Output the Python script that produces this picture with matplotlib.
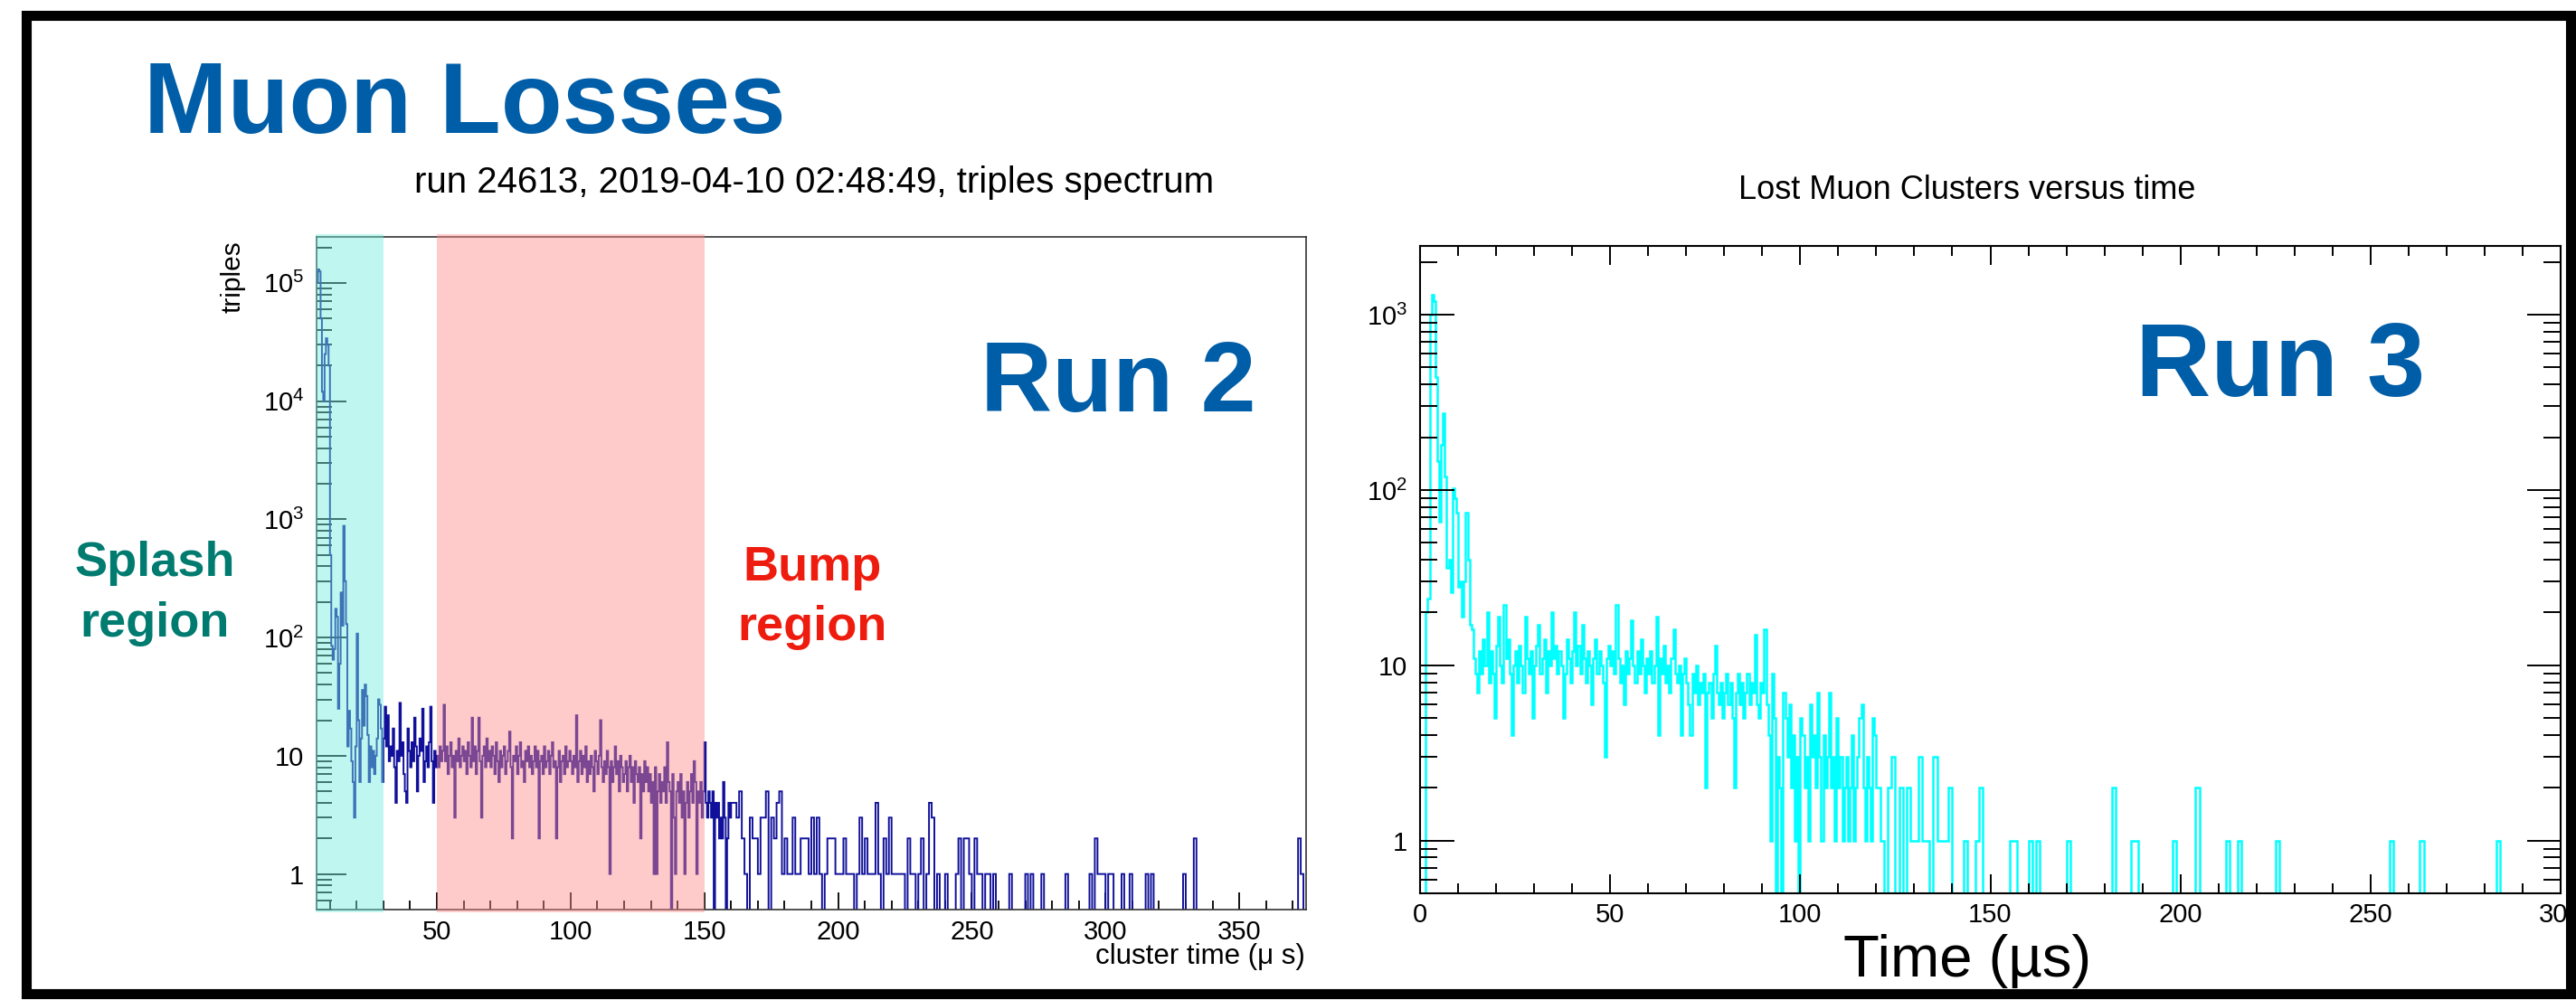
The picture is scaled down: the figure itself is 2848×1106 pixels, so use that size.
import numpy as np
import matplotlib
matplotlib.use("Agg")
import matplotlib.pyplot as plt
import matplotlib.transforms as mtransforms
from matplotlib.patches import Rectangle
from matplotlib.ticker import LogLocator, MultipleLocator, NullFormatter, FuncFormatter

plt.rcParams['font.family'] = ['Liberation Sans', 'DejaVu Sans']
plt.rcParams['mathtext.fontset'] = 'custom'
plt.rcParams['mathtext.rm'] = 'Liberation Sans'
plt.rcParams['mathtext.it'] = 'Liberation Sans:italic'
plt.rcParams['mathtext.bf'] = 'Liberation Sans:bold'

# ---- Run 2 triples spectrum ----
# 0.5 us bins from 5 to 160 us
run2_fine_start = 5
run2_fine_counts = [
    100000, 130000, 125000, 50000, 12000, 10000, 25000, 34000, 30000, 20000,
    500, 85, 65, 80, 175, 150, 25, 60, 240, 126,
    880, 300, 130, 12, 24, 17, 9, 6, 3, 12,
    108, 20, 6, 14, 36, 18, 40, 32, 15, 6,
    12, 8, 11, 7, 10, 14, 30, 27, 17, 6,
    14, 26, 12, 22, 9, 12, 10, 17, 8, 4,
    11, 9, 28, 10, 13, 7, 5, 4, 17, 11,
    8, 13, 9, 21, 12, 5, 10, 14, 11, 25,
    6, 9, 12, 8, 13, 26, 9, 4, 11, 8,
    10, 8, 12, 9, 11, 27, 9, 12, 7, 10,
    13, 8, 10, 3, 11, 9, 14, 8, 10, 12,
    9, 11, 7, 13, 10, 8, 21, 9, 12, 7,
    11, 21, 9, 3, 10, 12, 8, 14, 9, 11,
    8, 12, 10, 7, 13, 9, 6, 11, 8, 10,
    12, 7, 9, 11, 16, 8, 2, 10, 9, 12,
    7, 10, 13, 8, 9, 6, 11, 9, 12, 8,
    10, 7, 9, 12, 8, 11, 2, 9, 10, 7,
    12, 8, 9, 11, 7, 10, 13, 8, 9, 2,
    8, 11, 6, 9, 10, 7, 12, 8, 9, 11,
    9, 7, 10, 8, 22, 6, 9, 11, 7, 10,
    8, 12, 6, 9, 7, 10, 8, 5, 11, 9,
    7, 10, 20, 8, 6, 9, 7, 11, 8, 1,
    9, 6, 8, 12, 7, 9, 5, 10, 8, 6,
    7, 9, 5, 8, 10, 6, 8, 4, 9, 7,
    6, 8, 2, 7, 5, 9, 6, 8, 5, 7,
    4, 6, 1, 8, 1, 5, 7, 4, 6, 5,
    8, 4, 13, 6, 5, 0, 7, 3, 1, 5,
    6, 4, 7, 3, 5, 1, 4, 6, 3, 5,
    7, 4, 9, 6, 1, 5, 4, 6, 3, 5,
    13, 4, 3, 5, 4, 3, 5, 0, 4, 3,
    4, 2, 3, 2, 6, 3, 0, 2, 4, 3,
]
# 1 us bins from 160 to 375 us
run2_coarse_start = 160
run2_coarse_counts = [
    4, 4, 3, 5, 2, 1, 0, 3, 2, 2,
    1, 3, 3, 5, 0, 3, 2, 4, 5, 1,
    2, 1, 1, 3, 1, 1, 2, 2, 2, 1,
    3, 1, 3, 1, 0, 1, 2, 2, 2, 1,
    1, 1, 2, 1, 1, 1, 0, 1, 3, 1,
    2, 1, 1, 1, 4, 1, 0, 2, 1, 3,
    1, 1, 1, 1, 1, 0, 2, 1, 1, 0,
    1, 2, 0, 1, 4, 3, 0, 1, 0, 0,
    1, 0, 0, 0, 1, 2, 0, 2, 2, 1,
    0, 2, 1, 1, 0, 1, 1, 0, 1, 0,
    0, 0, 0, 0, 1, 0, 0, 0, 0, 0,
    1, 0, 1, 0, 0, 0, 1, 0, 0, 0,
    0, 0, 0, 0, 0, 1, 0, 0, 0, 0,
    0, 0, 0, 0, 1, 0, 2, 1, 1, 1,
    0, 1, 1, 0, 0, 0, 1, 0, 0, 1,
    0, 0, 0, 0, 0, 1, 0, 1, 0, 0,
    0, 0, 0, 0, 0, 0, 0, 0, 0, 1,
    0, 0, 0, 2, 0, 0, 0, 0, 0, 0,
    0, 0, 0, 0, 0, 0, 0, 0, 0, 0,
    0, 0, 0, 0, 0, 0, 0, 0, 0, 0,
    0, 0, 0, 0, 0, 0, 0, 0, 0, 0,
    0, 0, 2, 1, 0,
]

# ---- Run 3 lost muon clusters ----
# 0.5 us bins from 0 to 120 us
run3_fine_start = 0
run3_fine_counts = [
    0, 0, 0, 20, 24, 1000, 1300, 1200, 440, 146,
    66, 180, 275, 120, 36, 40, 26, 102, 90, 74,
    28, 30, 19, 30, 74, 40, 17, 16,
    11, 9, 7, 12, 9, 14, 10, 20, 8, 12,
    9, 5, 13, 19, 10, 8, 22, 11, 14, 9,
    4, 10, 12, 8, 13, 10, 7, 19, 11, 9,
    12, 5, 10, 13, 17, 9, 11, 14, 7, 12,
    10, 20, 11, 13, 9, 12, 10, 5, 9, 14,
    11, 8, 12, 20, 10, 13, 9, 17, 11, 8,
    12, 10, 6, 11, 14, 9, 12, 10, 8, 3,
    11, 13,
    10, 12, 9, 22, 11, 8, 10, 6, 12, 9,
    11, 18, 10, 8, 12, 9, 14, 10, 7, 11,
    9, 12, 8, 10, 19, 4, 11, 9, 13, 8,
    10, 7, 11, 16, 9, 8, 10, 4, 9, 11,
    8, 6, 4, 9, 7, 10, 6, 8, 7, 9,
    2, 7, 8, 5, 9, 13, 7, 6, 8, 5,
    7, 9, 6, 8, 5, 2, 7, 9, 6, 8,
    5, 7, 9, 6, 8, 7, 15, 6, 5, 8,
    7, 16, 6, 4, 1, 9, 5, 0,
    3, 2, 0, 7, 5, 3, 6, 2, 4, 1,
    3, 0, 5, 4, 2, 3, 1, 6, 3, 4,
    2, 7, 3, 1, 4, 2, 3, 7, 2, 3,
    1, 5, 2, 3, 1, 2, 3, 1, 2, 4,
    1, 2, 3, 5, 6, 2, 1, 3, 2, 1,
    5, 4,
]
# 1 us bins from 120 to 300 us
run3_coarse_start = 120
run3_coarse_counts = [
    2, 1, 0, 2, 3, 0, 2, 0, 2, 1,
    1, 3, 1, 1, 0, 3, 1, 1, 1, 2,
    0, 0, 0, 1, 0, 0, 1, 2, 0, 0,
    0, 0, 0, 0, 0, 1, 1, 0, 0, 0,
    1, 0, 1, 0, 0, 0, 0, 0, 0, 0,
    1, 0, 0, 0, 0, 0, 0, 0, 0, 0,
    0, 0, 2, 0, 0, 0, 0, 1, 1, 0,
    0, 0, 0, 0, 0, 0, 0, 0, 1, 0,
    0, 0, 0, 0, 2, 0, 0, 0, 0, 0,
    0, 0, 1, 0, 0, 1, 0, 0, 0, 0,
    0, 0, 0, 0, 0, 1, 0, 0, 0, 0,
    0, 0, 0, 0, 0, 0, 0, 0, 0, 0,
    0, 0, 0, 0, 0, 0, 0, 0, 0, 0,
    0, 0, 0, 0, 0, 1, 0, 0, 0, 0,
    0, 0, 0, 1, 0, 0, 0, 0, 0, 0,
    0, 0, 0, 0, 0, 0, 0, 0, 0, 0,
    0, 0, 0, 1, 0, 0, 0, 0, 0, 0,
    0, 0, 0, 0, 0, 0, 0, 0, 0, 0,
]

splash_region = (5, 30)
bump_region = (50, 150)

W, H = 2848, 1106
fig = plt.figure(figsize=(W / 100, H / 100), dpi=100)


def fx(px):
    return px / W


def fy(py):
    return 1 - py / H


def root_log_label(v, pos):
    if v == 1:
        return '1'
    if v == 10:
        return '10'
    return r'$\mathregular{10^{%d}}$' % round(np.log10(v))


def hist_edges(fine_start, n_fine, coarse_start, n_coarse):
    return np.concatenate([fine_start + 0.5 * np.arange(n_fine),
                           coarse_start + np.arange(n_coarse + 1)])


# ---------------- left panel (Run 2) ----------------
ax1 = fig.add_axes([fx(350), fy(1006), (1444 - 350) / W, (1006 - 262) / H])
c2 = np.array(run2_fine_counts + run2_coarse_counts, dtype=float)
e2 = hist_edges(run2_fine_start, len(run2_fine_counts), run2_coarse_start, len(run2_coarse_counts))
ax1.stairs(np.where(c2 > 0, c2, 0.01), e2, baseline=None, color='#10109a', lw=1.4, zorder=2)
ax1.set_yscale('log')
ax1.set_xlim(5, 375)
ax1.set_ylim(0.5, 2.45e5)

ax1.xaxis.set_major_locator(MultipleLocator(50))
ax1.xaxis.set_minor_locator(MultipleLocator(10))
ax1.yaxis.set_major_locator(LogLocator(base=10, numticks=20))
ax1.yaxis.set_minor_locator(LogLocator(base=10, subs=np.arange(2, 10), numticks=20))
ax1.yaxis.set_major_formatter(FuncFormatter(root_log_label))
ax1.yaxis.set_minor_formatter(NullFormatter())
ax1.tick_params(axis='x', which='major', direction='in', length=14, width=1.3,
                labelsize=21, pad=8, top=False)
ax1.tick_params(axis='x', which='minor', direction='in', length=7, width=1.3, top=False)
ax1.tick_params(axis='y', which='major', direction='in', length=24, width=1.3,
                labelsize=21, pad=10, right=False)
ax1.tick_params(axis='y', which='minor', direction='in', length=12, width=1.3, right=False)
for sp in ax1.spines.values():
    sp.set_linewidth(1.2)
    sp.set_color('#333333')

# shaded regions drawn over the histogram like the original slide
trans = mtransforms.blended_transform_factory(ax1.transData, ax1.transAxes)
ax1.add_patch(Rectangle((4.7, -0.004), splash_region[1] - 4.7, 1.008, transform=trans,
                        facecolor='#73efde', alpha=0.45, lw=0, zorder=5, clip_on=False))
ax1.add_patch(Rectangle((bump_region[0], -0.004), bump_region[1] - bump_region[0], 1.008,
                        transform=trans, facecolor='#ff8b8b', alpha=0.45, lw=0,
                        zorder=5, clip_on=False))

# ---------------- right panel (Run 3) ----------------
ax2 = fig.add_axes([fx(1570), fy(988), (2831 - 1570) / W, (988 - 272) / H])
c3 = np.array(run3_fine_counts + run3_coarse_counts, dtype=float)
e3 = hist_edges(run3_fine_start, len(run3_fine_counts), run3_coarse_start, len(run3_coarse_counts))
ax2.stairs(np.where(c3 > 0, c3, 0.01), e3, baseline=None, color='#00ffff', lw=1.8)
ax2.set_yscale('log')
ax2.set_xlim(0, 300)
ax2.set_ylim(0.5, 2470)

ax2.xaxis.set_major_locator(MultipleLocator(50))
ax2.xaxis.set_minor_locator(MultipleLocator(10))
ax2.yaxis.set_major_locator(LogLocator(base=10, numticks=20))
ax2.yaxis.set_minor_locator(LogLocator(base=10, subs=np.arange(2, 10), numticks=20))
ax2.yaxis.set_major_formatter(FuncFormatter(root_log_label))
ax2.yaxis.set_minor_formatter(NullFormatter())
ax2.tick_params(axis='x', which='major', direction='in', length=15, width=1.4,
                labelsize=21, pad=7, top=True)
ax2.tick_params(axis='x', which='minor', direction='in', length=8, width=1.4, top=True)
ax2.tick_params(axis='y', which='major', direction='in', length=27, width=1.4,
                labelsize=21, pad=10, right=True)
ax2.tick_params(axis='y', which='minor', direction='in', length=14, width=1.4, right=True)
for sp in ax2.spines.values():
    sp.set_linewidth(1.5)

# ---------------- text ----------------
blue = '#005ea8'
fig.text(fx(159), fy(147), 'Muon Losses', fontsize=80, fontweight='bold', color=blue,
         ha='left', va='baseline')
fig.text(fx(900), fy(213), 'run 24613, 2019-04-10 02:48:49, triples spectrum',
         fontsize=29, ha='center', va='baseline')
fig.text(fx(2175), fy(220), 'Lost Muon Clusters versus time', fontsize=26,
         ha='center', va='baseline')
fig.text(fx(1084), fy(455), 'Run 2', fontsize=79, fontweight='bold', color=blue,
         ha='left', va='baseline')
fig.text(fx(2361), fy(438), 'Run 3', fontsize=83, fontweight='bold', color=blue,
         ha='left', va='baseline')

teal = '#007b70'
fig.text(fx(171), fy(637), 'Splash', fontsize=39, fontweight='bold', color=teal,
         ha='center', va='baseline')
fig.text(fx(171), fy(704), 'region', fontsize=39, fontweight='bold', color=teal,
         ha='center', va='baseline')
red = '#ee1c0e'
fig.text(fx(898), fy(642), 'Bump', fontsize=39, fontweight='bold', color=red,
         ha='center', va='baseline')
fig.text(fx(898), fy(708), 'region', fontsize=39, fontweight='bold', color=red,
         ha='center', va='baseline')

fig.text(fx(258), fy(266), 'triples', fontsize=21.5, rotation=90, ha='center', va='top')
fig.text(fx(1443), fy(1066), 'cluster time (\u03bc s)', fontsize=22.5,
         ha='right', va='baseline')
fig.text(fx(2175), fy(1080), 'Time (\u00b5s)', fontsize=47, ha='center', va='baseline')

# slide frame
fig.patches.append(Rectangle((fx(29), fy(1099)), (2842 - 29) / W, (1099 - 17) / H,
                             transform=fig.transFigure, fill=False, lw=8,
                             edgecolor='black', zorder=100))

fig.savefig('out.png', dpi=100)
